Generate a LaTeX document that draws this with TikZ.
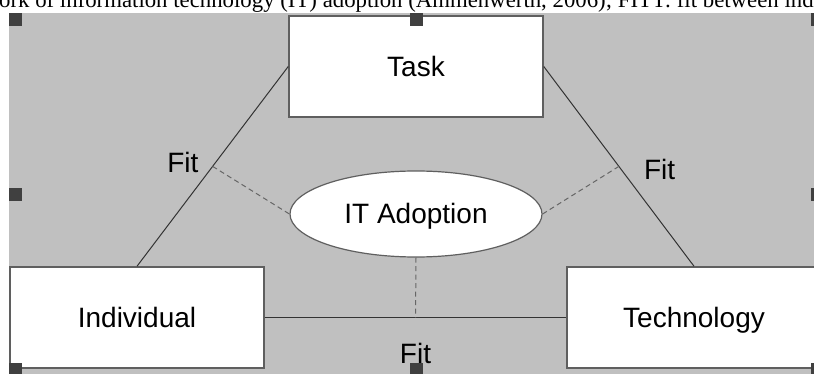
\documentclass[tikz,border=0pt]{standalone}
\usepackage{fontspec}
\setmainfont{Liberation Sans}
\newfontfamily\captionserif{Liberation Serif}
\usetikzlibrary{positioning,calc,shapes.geometric}

\definecolor{panelgray}{RGB}{192,192,192}
\definecolor{handlegray}{RGB}{64,64,64}
\definecolor{edgegray}{RGB}{95,95,95}

\begin{document}
\begin{tikzpicture}[
  x=1pt, y=-1pt,
  every node/.style={font=\fontsize{28}{32}\selectfont},
  line/.style={draw=black!80, line width=1pt},
  fitline/.style={draw=black!60, line width=1pt, dash pattern=on 5pt off 3.5pt},
  box/.style={rectangle, draw=edgegray, line width=1.5pt, fill=white,
              minimum width=254pt, minimum height=101pt, inner sep=0pt,
              text height=20pt, text depth=0pt},
  oval/.style={ellipse, draw=edgegray, line width=1.2pt, fill=white,
              minimum width=252pt, minimum height=86pt, inner sep=0pt,
              text height=20pt, text depth=0pt},
  fitlabel/.style={inner sep=2pt},
  handle/.style={rectangle, fill=handlegray, minimum size=13pt, inner sep=0pt}
]
\useasboundingbox (0,0) rectangle (814,374);
\clip (0,0) rectangle (814,374);

% =======================================================
%                     CAPTION AND PANEL
% =======================================================
\node[anchor=base west, inner sep=0pt, font=\captionserif\fontsize{22.8}{26}\selectfont]
  (caption) at (-1,8)
  {ork of information technology (IT) adoption (Ammenwerth, 2006); FITT: fit between indi};

\node[fill=panelgray, anchor=north west, inner sep=0pt,
      minimum width=815pt, minimum height=363pt] (panel) at (9,13) {};

% =======================================================
%                     MAIN COMPONENTS
% =======================================================
\node[box] (task) at (416,66.5) {Task};
\node[box] (indiv) at (137,317.5) {Individual};
\node[box] (tech) at (694,317.5) {Technology};
\node[oval] (itadopt) at (416,214) {IT Adoption};

% =======================================================
%                     CONNECTIONS
% =======================================================
\coordinate (fitL) at ($(task.west)!0.5!(indiv.north)$);
\coordinate (fitR) at ($(task.east)!0.5!(tech.north)$);
\coordinate (fitB) at ($(indiv.east)!0.5!(tech.west)$);

% Task -- Individual, Task -- Technology, Individual -- Technology
\draw[line] (task.west) -- (indiv.north);
\draw[line] (task.east) -- (tech.north);
\draw[line] (indiv.east) -- (tech.west);

% Fit points -> IT Adoption
\draw[fitline] (fitL) -- (itadopt.west);
\draw[fitline] (fitR) -- (itadopt.east);
\draw[fitline] (itadopt.south) -- (fitB);

\node[fitlabel, left=12pt of fitL, yshift=4pt] (fitLlabel) {Fit};
\node[fitlabel, right=23pt of fitR, yshift=-3pt] (fitRlabel) {Fit};
\node[fitlabel, below=23.5pt of fitB] (fitBlabel) {Fit};

% selection handles
\foreach \a in {north west, north, north east, west, east, south west, south, south east}
  \node[handle, anchor=\a] at (panel.\a) {};

\end{tikzpicture}
\end{document}
